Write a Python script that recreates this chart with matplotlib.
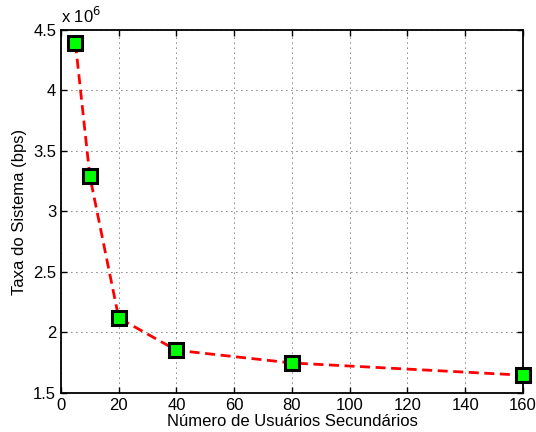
import matplotlib
matplotlib.use("Agg")
import matplotlib.pyplot as plt

# data
usuarios = [5, 10, 20, 40, 80, 160]
taxa = [4.39e6, 3.29e6, 2.12e6, 1.853e6, 1.748e6, 1.647e6]
xticks = [0, 20, 40, 60, 80, 100, 120, 140, 160]
yticks = [1.5e6, 2e6, 2.5e6, 3e6, 3.5e6, 4e6, 4.5e6]
ytick_labels = ["1.5", "2", "2.5", "3", "3.5", "4", "4.5"]

plt.rcParams['font.family'] = ['Liberation Sans', 'DejaVu Sans']

fig = plt.figure(figsize=(5.36, 4.32), dpi=100)
ax = fig.add_axes([0.1138, 0.0903, 0.8619, 0.8403])

ax.plot(usuarios, taxa, color="red", linestyle="--", linewidth=2, dashes=(3.6, 2),
        marker="s", markersize=9.5, markerfacecolor="#00ff00",
        markeredgecolor="black", markeredgewidth=2.2, clip_on=False, zorder=5)

ax.set_xlim(0, 160)
ax.set_ylim(1.5e6, 4.5e6)
ax.set_xticks(xticks)
ax.set_yticks(yticks)
ax.set_yticklabels(ytick_labels)
ax.grid(True, linestyle=(0, (1, 5)), color="black", linewidth=0.6)
ax.tick_params(direction="in", labelsize=12, length=4, width=1, top=True, right=True)
for sp in ax.spines.values():
    sp.set_linewidth(1.3)

ax.set_xlabel("Número de Usuários Secundários", fontsize=12, labelpad=1)
ax.set_ylabel("Taxa do Sistema (bps)", fontsize=12, labelpad=4)
ax.text(0.0, 1.01, r"x 10$^{6}$", transform=ax.transAxes, fontsize=12,
        ha="left", va="bottom")

fig.savefig("out.png", dpi=100)
